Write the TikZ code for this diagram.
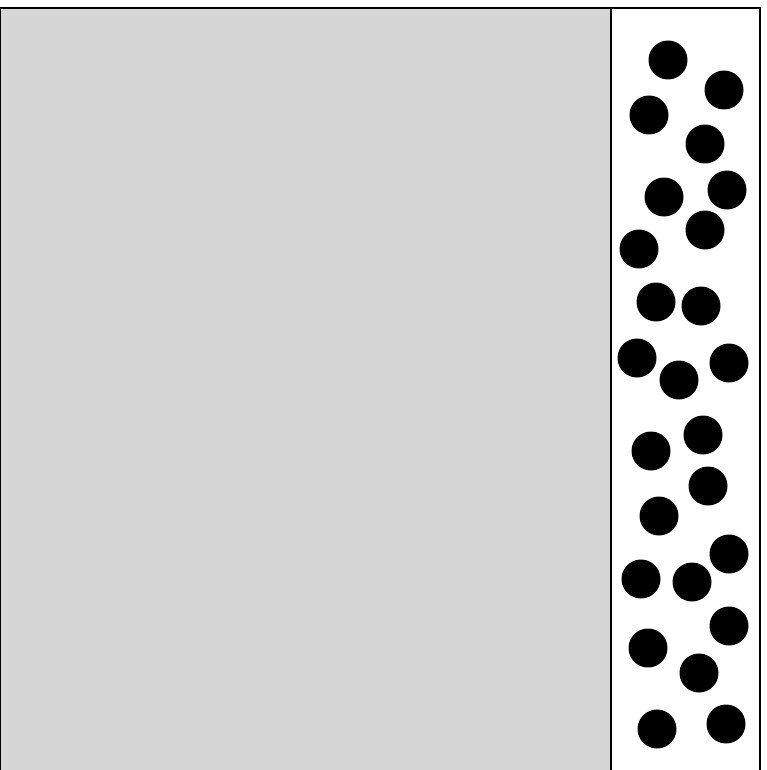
\documentclass[tikz,border=0pt]{standalone}
\begin{document}
\begin{tikzpicture}[x=1pt,y=-1pt]
\tikzset{wall/.style={line width=2pt,black},ball/.style={fill=black}}
\useasboundingbox (0,0) rectangle (767,770);
\fill[white] (0,0) rectangle (767,770);
\fill[gray!32] (0,8) rectangle (611,770);
\draw[wall] (0,771) -- (0,8) -- (760,8) -- (760,771);
\draw[wall] (611,8) -- (611,771);
\foreach \x/\y in {668/60,724/90,649/115,705/144,664/197,727/190,705/230,639/249,656/302,701/306,637/358,679/380,729/363,703/435,651/451,708/486,659/516,729/554,641/579,692/582,729/626,648/648,699/673,657/729,726/724}
  \fill[ball] (\x,\y) circle (19.5);
\end{tikzpicture}
\end{document}
